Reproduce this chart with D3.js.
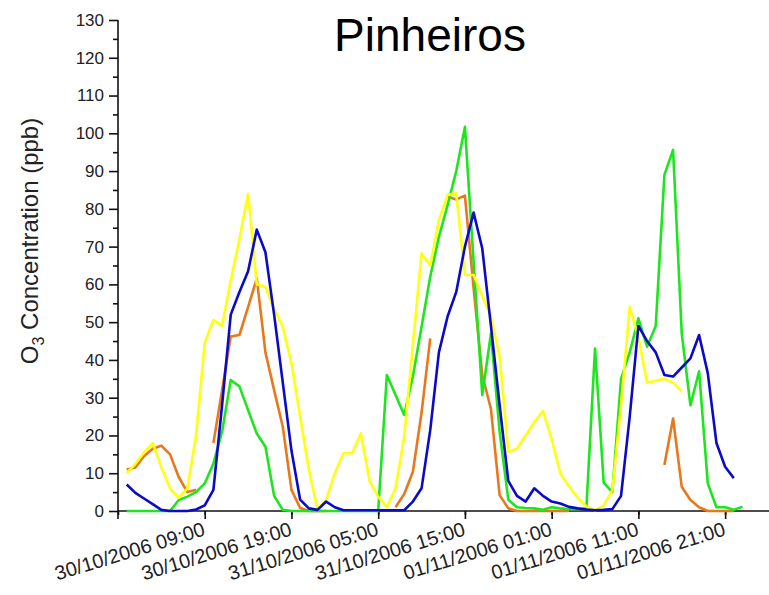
<!DOCTYPE html>
<html>
<head>
<meta charset="utf-8">
<script src="https://cdn.jsdelivr.net/npm/d3@7"></script>
<style>
  body { margin: 0; background: #fff; }
  text { font-family: "Liberation Sans", Arial, sans-serif; }
</style>
</head>
<body>
<svg id="chart" width="769" height="595"></svg>
<script>
// hourly O3 readings, 30/10/2006 00:00 .. 01/11/2006 23:00 (null = no reading)
const startHour = Date.UTC(2006, 9, 30, 0);
const seriesOrange = [11, 11.5, 14.5, 16.5, 17.3, 15, 9, 5, 5.6, null, 18, 32, 46.2, 46.6, 54, 61.6, 42, 32, 22.3, 5.6,
  0.8, 0, 0, 0, null, null, null, null, null, null, null, 1, 4.5, 10.4, 26, 45.7, null, 83.2, 82.5, 83.5,
  59, 36, 27, 4.2, 0.7, 0, 0, 0, 0, 0, 0, 0, null, null, null, null, null, null, null, null,
  null, null, 12.2, 24.5, 6.4, 2.9, 1, 0, 0, 0, 0, null];
const seriesYellow = [10, 12.5, 15.5, 18, 11.5, 6, 3.5, 6, 20, 44.5, 50.6, 49, 61, 72, 84, 60, 59.4, 53.5, 48.8, 39,
  25, 11, 0.5, 3, 10, 15.3, 15.3, 20.6, 8, 3.8, 1, 6, 19.7, 44, 68.2, 65, 77, 83.7, 84.1, 62.5,
  62.5, 57, 51.4, 41, 15.7, 16.5, 20, 23.5, 26.5, 19, 10, 6.5, 3.5, 1.2, 0.2, 1.5, 5.5, 28, 54, 46,
  34, 34.5, 35, 34, 31.6, null, null, null, null, null, null, null];
const seriesGreen = [0, 0, 0, 0, 0, 0, 2.9, 3.8, 5, 7.3, 12.6, 21, 34.7, 33, 26.7, 20.5, 17, 4, 0.3, 0,
  0, 0, 0, 0, 0, 0, 0, 0, 0, 0, 36, 30.7, 25.4, 35.6, 48.8, 62, 72.6, 81, 90, 101.7,
  66, 30.7, 47, 21, 3, 1, 0.8, 0.7, 0.3, 1, 0.7, 0.5, 0.5, 0.7, 43, 7.5, 5, 35, 42, 51,
  43.5, 49, 89, 95.6, 47, 28, 37, 7.3, 1, 1, 0.3, 1.1];
const seriesBlue = [7, 4.8, 3.3, 1.8, 0.3, 0, 0, 0, 0.4, 1.5, 5.6, 28, 52, 58, 63.5, 74.5, 68.5, 52, 34, 16,
  3, 0.7, 0.3, 2.5, 1, 0.2, 0.2, 0.2, 0.2, 0.2, 0.2, 0.2, 0.2, 2.5, 6, 21.4, 42, 51.5, 58, 70,
  79, 69.5, 49, 28, 8, 4, 2.5, 6, 4, 2.5, 2, 1.1, 0.7, 0.4, 0.2, 0.3, 0.5, 4, 25, 49,
  45, 42, 36, 35.6, 38, 40.4, 46.6, 36.5, 18, 11.7, 8.7, null];
const yTicks = d3.range(0, 131, 10);
const title = "Pinheiros";

const svg = d3.select("#chart");
const x = d3.scaleUtc()
  .domain([new Date(startHour - 3600e3), new Date(startHour + 74.06 * 3600e3)])
  .range([118, 769]);
const y = d3.scaleLinear().domain([0, 130]).range([511, 20]);

svg.append("rect").attr("width", 769).attr("height", 595).attr("fill", "#fff");

// y axis: major ticks with labels, minor ticks between
const yAxis = svg.append("g").attr("transform", "translate(118,0)");
yAxis.call(d3.axisLeft(y).tickValues(yTicks).tickSize(9).tickPadding(5).tickSizeOuter(0));
yAxis.append("g").call(d3.axisLeft(y).tickValues(d3.range(5, 130, 10)).tickSize(5).tickFormat("").tickSizeOuter(0));
yAxis.selectAll(".domain").remove();
yAxis.append("line").attr("x1", 0).attr("x2", 0).attr("y1", y(130)).attr("y2", y(0) + 8)
  .attr("stroke", "#111").attr("stroke-width", 1.6);
yAxis.selectAll("line").attr("stroke", "#111").attr("stroke-width", 1.6);
yAxis.selectAll("text").attr("font-size", 17).attr("fill", "#222")
  .style("font-family", '"Liberation Sans", Arial, sans-serif');

// x axis: 10h major ticks, 5h minor ticks
const majorTimes = d3.range(7).map(i => new Date(startHour + (9 + 10 * i) * 3600e3));
const minorTimes = d3.range(15).map(i => new Date(startHour + (-1 + 10 * i) * 3600e3))
  .filter(d => d <= x.domain()[1]);
const fmt = d3.utcFormat("%d/%m/%Y %H:%M");
const xAxis = svg.append("g").attr("transform", `translate(0,${y(0)})`);
xAxis.call(d3.axisBottom(x).tickValues(majorTimes).tickSize(8).tickFormat(fmt).tickSizeOuter(0));
xAxis.append("g").call(d3.axisBottom(x).tickValues(minorTimes).tickSize(4).tickFormat("").tickSizeOuter(0));
xAxis.selectAll(".domain").remove();
xAxis.append("line").attr("x1", 118).attr("x2", 769).attr("stroke", "#111").attr("stroke-width", 1.6);
xAxis.selectAll("line").attr("stroke", "#111").attr("stroke-width", 1.6);
xAxis.selectAll(".tick text")
  .attr("font-size", 20).attr("fill", "#222")
  .style("font-family", '"Liberation Sans", Arial, sans-serif')
  .attr("text-anchor", "end")
  .attr("dy", 0).attr("y", 0)
  .attr("transform", "translate(1,24) rotate(-17)");

// series lines
const times = seriesBlue.map((_, i) => new Date(startHour + i * 3600e3));
const line = d3.line()
  .defined(d => d[1] != null)
  .x(d => x(d[0]))
  .y(d => y(d[1]));
const series = [
  { values: seriesOrange, color: "#e8781e" },
  { values: seriesGreen, color: "#1ee61e" },
  { values: seriesYellow, color: "#ffff10" },
  { values: seriesBlue, color: "#0a0ac8" }
];
svg.append("g").selectAll("path")
  .data(series)
  .enter()
  .append("path")
  .attr("d", s => line(s.values.map((v, i) => [times[i], v])))
  .attr("fill", "none")
  .attr("stroke", s => s.color)
  .attr("stroke-width", 2.6)
  .attr("stroke-linejoin", "round");

// title
svg.append("text")
  .attr("x", 430).attr("y", 51)
  .attr("text-anchor", "middle")
  .attr("font-size", 46)
  .attr("fill", "#000")
  .text(title);

// y axis title with subscript
const yTitle = svg.append("text")
  .attr("transform", "translate(38,241) rotate(-90)")
  .attr("text-anchor", "middle")
  .attr("font-size", 24)
  .attr("fill", "#222");
yTitle.append("tspan").text("O");
yTitle.append("tspan").attr("font-size", 16).attr("dy", 6).text("3");
yTitle.append("tspan").attr("dy", -6).text(" Concentration (ppb)");
</script>
</body>
</html>
